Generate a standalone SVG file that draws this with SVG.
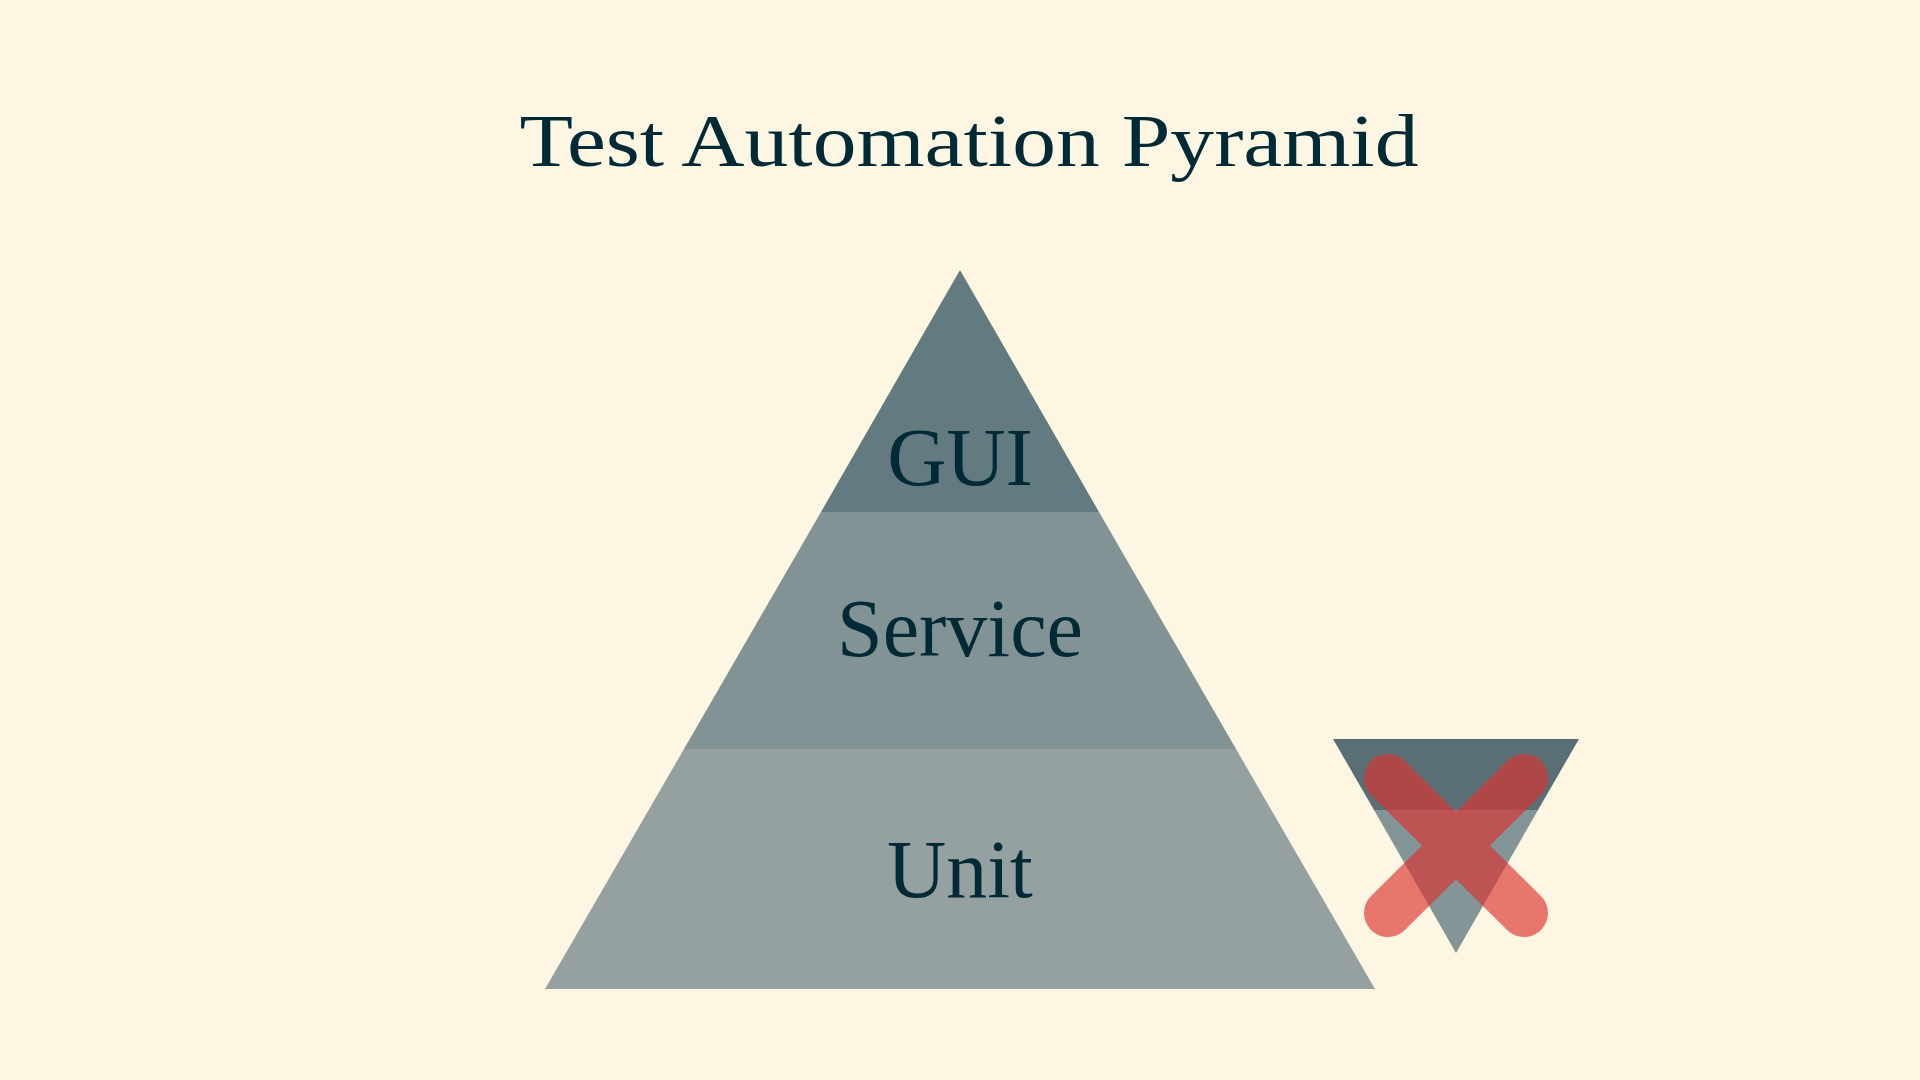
<svg xmlns="http://www.w3.org/2000/svg" width="1920" height="1080" viewBox="0 0 1920 1080">
<style>
text{font-family:"Liberation Serif","DejaVu Serif",serif;fill:#002b36;text-anchor:middle}
.lbl{font-size:82px}
.x{stroke:#dc322f;stroke-width:48;stroke-linecap:round;fill:none}
</style>
<rect width="1920" height="1080" fill="#fdf6e3"/>
<text x="969" y="166" font-size="74" textLength="899" lengthAdjust="spacingAndGlyphs">Test Automation Pyramid</text>
<g id="unit">
<polygon points="684,749 1236,749 1375,989 545,989" fill="#94a1a0"/>
<text class="lbl" x="960" y="897">Unit</text>
</g>
<g id="service">
<polygon points="821,512 1099,512 1236,749 684,749" fill="#829395"/>
<text class="lbl" x="960" y="656">Service</text>
</g>
<g id="gui">
<polygon points="960,270 1099,512 821,512" fill="#647a81"/>
<text class="lbl" x="960" y="485">GUI</text>
</g>
<g id="inverted">
<polygon points="1333,739 1579,739 1538,810 1374,810" fill="#5a6f75"/>
<polygon points="1374,810 1538,810 1456,953" fill="#849597"/>
</g>
<g id="cross" opacity="0.65">
<line class="x" x1="1388" y1="778" x2="1524" y2="913"/>
<line class="x" x1="1524" y1="778" x2="1388" y2="913"/>
</g>
</svg>
